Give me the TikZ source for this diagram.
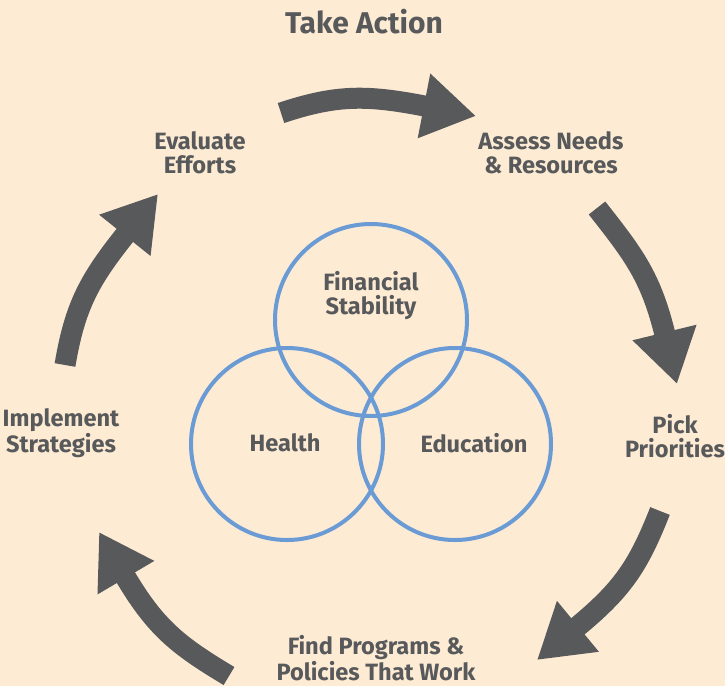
\documentclass[tikz,border=0pt]{standalone}
\usepackage{fontspec}
\setmainfont{Fira Sans}
\usetikzlibrary{arrows.meta}
\definecolor{bgbeige}{HTML}{FDEBD4}
\definecolor{cyclegray}{HTML}{58595B}
\definecolor{ringblue}{HTML}{6B9BD5}

\begin{document}
\begin{tikzpicture}[x=1pt,y=-1pt,
  lbl/.style={text=cyclegray,font=\fontsize{23.6}{24}\selectfont\bfseries,align=center,inner sep=0pt},
  cyc/.style={draw=cyclegray,line width=21pt,-{Triangle[length=53pt,width=62pt]}},
  ring/.style={draw=ringblue,line width=4pt,circle,minimum size=192pt,inner sep=0pt}]
%background
\fill[bgbeige] (0,0) rectangle (725,686);
%title
\node[lbl,font=\fontsize{30}{30}\selectfont\bfseries] (title) at (364,22) {Take Action};
%steps
\node[lbl] (evaluate) at (200,153) {Evaluate\\Efforts};
\node[lbl] (assess) at (551,153) {Assess Needs\\\& Resources};
\node[lbl] (pick) at (675,436) {Pick\\Priorities};
\node[lbl,font=\fontsize{23.6}{23}\selectfont\bfseries] (find) at (376,658) {Find Programs \&\\Policies That Work};
\node[lbl] (implement) at (61,433) {Implement\\Strategies};
%rings
\node[ring] (finring) at (371,320) {};
\node[ring] (healthring) at (287,444) {};
\node[ring] (eduring) at (455,444) {};
\node[lbl] (fin) at (371,296) {Financial\\Stability};
\node[lbl] (health) at (285,443) {Health};
\node[lbl] (edu) at (474,443) {Education};
%cycle arrows
\coordinate (t1) at (281,113);
\coordinate (h1) at (476,116);
\coordinate (t2) at (597,208);
\coordinate (h2) at (677,384);
\coordinate (t3) at (660,511);
\coordinate (h3) at (537,660);
\coordinate (t4) at (229,676);
\coordinate (h4) at (99,532);
\coordinate (t5) at (65,365);
\coordinate (h5) at (158,194);
\draw[cyc] (t1) .. controls (338,94) and (368,95) .. (h1);
\draw[cyc] (t2) .. controls (634,255) and (651,277) .. (h2);
\draw[cyc] (t3) .. controls (638,567) and (622,590) .. (h3);
\draw[cyc] (t4) .. controls (177,645) and (155,627) .. (h4);
\draw[cyc] (t5) .. controls (75,306) and (89,280) .. (h5);
\end{tikzpicture}
\end{document}
